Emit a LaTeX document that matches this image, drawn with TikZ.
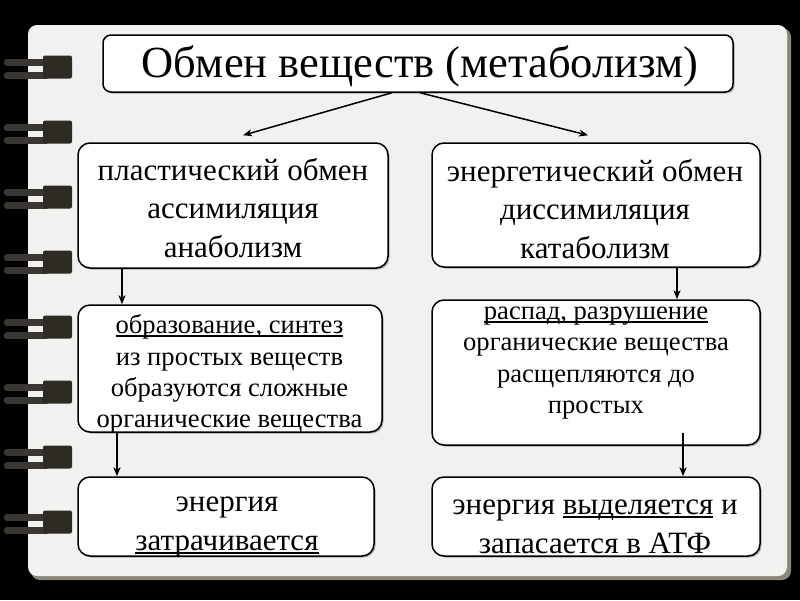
\documentclass[tikz,border=0pt]{standalone}
\usepackage{fontspec}
\setmainfont{Liberation Serif}
\usetikzlibrary{arrows.meta,calc,shadows}
\definecolor{paper}{HTML}{F1F1EF}
\definecolor{papershadow}{HTML}{8C8878}
\definecolor{ringdark}{HTML}{2E2B25}
\definecolor{ringwire}{HTML}{3A3732}
\newcommand\myul[1]{\setbox0\hbox{#1}\rlap{\rule[-0.12em]{\wd0}{0.065em}}\box0\relax}
\tikzset{
  box/.style={draw=black, line width=1.5pt, fill=white, rounded corners=12pt,
    drop shadow={shadow xshift=1.5pt, shadow yshift=-1.5pt, opacity=0.3, fill=black}},
  titlebox/.style={box, rounded corners=8pt},
  txt/.style={align=center, inner sep=0pt, text=black},
  bigtxt/.style={txt, font=\fontsize{31}{38.5}\selectfont},
  bottxt/.style={txt, font=\fontsize{31}{39.5}\selectfont},
  midtxt/.style={txt, font=\fontsize{26.6}{31.2}\selectfont},
  conn/.style={draw=black, line width=1.5pt, -{Stealth[length=9pt,width=7pt,inset=2.5pt]}}
}
\begin{document}
\begin{tikzpicture}[x=1pt,y=-1pt]
\useasboundingbox (0,0) rectangle (800,600);
\fill[black] (0,0) rectangle (800,600);
% page
\fill[papershadow, rounded corners=9pt] (31,28) rectangle (791,580);
\fill[paper, rounded corners=9pt] (28,25) rectangle (787,576);
% rings
\foreach \yc in {67.5,132.5,197.5,262.5,327.5,392.5,457.5,522.5}{
  \draw[ringwire, line width=6.5pt, line cap=round] (7,\yc-5) -- (46,\yc-5);
  \draw[ringwire, line width=6.5pt, line cap=round] (7,\yc+8) -- (46,\yc+8);
  \fill[ringdark, rounded corners=2pt] (43,\yc-12) rectangle (72,\yc+11);
}
% boxes
\node[titlebox, minimum width=630pt, minimum height=57pt] (t) at (418,63.5) {};
\node[box, minimum width=310pt, minimum height=125pt] (l2) at (233,205.5) {};
\node[box, minimum width=328pt, minimum height=124pt] (r2) at (596,205) {};
\node[box, minimum width=304pt, minimum height=127pt] (l3) at (230,368.5) {};
\node[box, minimum width=328pt, minimum height=145pt] (r3) at (596,372.5) {};
\node[box, minimum width=296pt, minimum height=79pt] (l4) at (226,516.5) {};
\node[box, minimum width=328pt, minimum height=79pt] (r4) at (596,516.5) {};
% texts
\node[txt, font=\fontsize{44.5}{52}\selectfont] (tt) at (420,66) {Обмен веществ (метаболизм)};
\node[bigtxt] (l2t) at (233,208) {пластический обмен\\ассимиляция\\анаболизм};
\node[bigtxt] (r2t) at (595,209) {энергетический обмен\\диссимиляция\\катаболизм};
\node[midtxt] (l3t) at (229.5,374) {\myul{образование, синтез}\\из простых веществ\\образуются сложные\\органические вещества};
\node[midtxt] (r3t) at (596,363) {\myul{распад, разрушение}\\органические вещества\\расщепляются до\\простых};
\node[bottxt] (l4t) at (227,527) {энергия\\\myul{затрачивается}};
\node[bottxt] (r4t) at (595,527) {энергия \myul{выделяется} и\\запасается в АТФ};
% connectors
\draw[conn] ($(t.south)+(-26,0)$) -- ($(l2.north)+(10,-7)$);
\draw[conn] ($(t.south)+(2,0)$) -- ($(r2.north)+(-8,-7)$);
\draw[conn] (122,0 |- l2.south) -- (122,0 |- l3.north);
\draw[conn] (117,0 |- l3.south) -- (117,0 |- l4.north);
\draw[conn] (677,0 |- r2.south) -- (677,0 |- r3.north);
\draw[conn] ($(683,0 |- r3.south)+(0,-13)$) -- (683,0 |- r4.north);
\end{tikzpicture}
\end{document}
